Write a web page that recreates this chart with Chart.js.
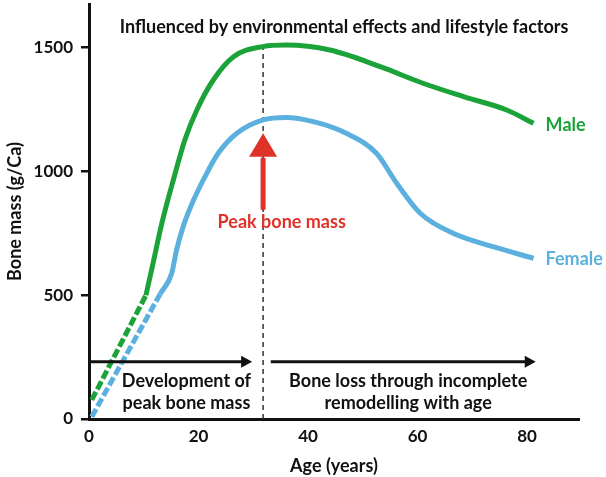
<!DOCTYPE html>
<html>
<head>
<meta charset="utf-8">
<script src="https://cdn.jsdelivr.net/npm/chart.js@4/dist/chart.umd.min.js"></script>
<style>
  html, body { margin: 0; padding: 0; background: #fff; }
</style>
</head>
<body>
<canvas id="bone" width="606" height="477"></canvas>
<script>
// values: age in years, bone mass in g/Ca
var maleEarlyAge = [0.5, 10.4];
var maleEarlyMass = [77, 500];
var maleAge = [10.4, 11.7, 13.3, 15.4, 17.5, 19.7, 22.7, 26.4, 31.8, 36, 44, 53.2, 61, 68.4, 76.3, 81.2];
var maleMass = [500, 629, 790, 965, 1127, 1248, 1369, 1463, 1504, 1510, 1490, 1423, 1356, 1302, 1248, 1194];

var femaleEarlyAge = [0.5, 13];
var femaleEarlyMass = [9, 505];
var femaleAge = [13, 15.1, 16, 17.2, 19.1, 21.5, 23.6, 27, 31.8, 36, 41, 47, 52.5, 56.2, 60.5, 66.5, 73.8, 81.2];
var femaleMass = [505, 588, 683, 777, 884, 992, 1073, 1154, 1208, 1218, 1201, 1154, 1073, 952, 831, 750, 696, 649];

var xTicks = [0, 20, 40, 60, 80];
var yTicks = [0, 500, 1000, 1500];

// annotations
var peakAge = 31.8;
var peakTop = 1505;
var peakArrow = [845, 1059, 1154];   // shaft start, head base, tip
var phaseMass = 231;
var growthSpan = [0, 29.8];
var lossSpan = [33.2, 81.6];

var GREEN = '#1ba33a';
var BLUE = '#5cb0de';
var RED = '#df3229';
var FONT = 'Lato';

function pts(xs, ys) {
  return xs.map(function (x, i) { return { x: x, y: ys[i] }; });
}

var annotate = {
  id: 'annotate',
  afterDatasetsDraw: function (chart) {
    var ctx = chart.ctx;
    var xs = chart.scales.x, ys = chart.scales.y;
    var px = function (v) { return xs.getPixelForValue(v); };
    var py = function (v) { return ys.getPixelForValue(v); };
    ctx.save();

    // red peak arrow
    var ax = px(peakAge);
    ctx.strokeStyle = RED;
    ctx.fillStyle = RED;
    ctx.lineWidth = 5;
    ctx.beginPath();
    ctx.moveTo(ax, py(peakArrow[0]));
    ctx.lineTo(ax, py(peakArrow[1]) + 1);
    ctx.stroke();
    ctx.beginPath();
    ctx.moveTo(ax - 14, py(peakArrow[1]));
    ctx.lineTo(ax + 14, py(peakArrow[1]));
    ctx.lineTo(ax, py(peakArrow[2]));
    ctx.closePath();
    ctx.fill();

    // phase arrows
    ctx.strokeStyle = '#111';
    ctx.fillStyle = '#111';
    ctx.lineWidth = 3;
    [growthSpan, lossSpan].forEach(function (s) {
      var y = py(phaseMass), x0 = px(s[0]), x1 = px(s[1]);
      ctx.beginPath();
      ctx.moveTo(x0, y);
      ctx.lineTo(x1 - 8, y);
      ctx.stroke();
      ctx.beginPath();
      ctx.moveTo(x1 - 11, y - 6);
      ctx.lineTo(x1, y);
      ctx.lineTo(x1 - 11, y + 6);
      ctx.closePath();
      ctx.fill();
    });

    // texts
    ctx.textBaseline = 'middle';
    ctx.textAlign = 'center';
    ctx.font = 'bold 18px ' + FONT;
    ctx.fillStyle = '#111';
    ctx.fillText('Influenced by environmental effects and lifestyle factors', px(46.6), py(1583));
    ctx.fillText('Development of', px(17.8), py(153));
    ctx.fillText('peak bone mass', px(17.8), py(62));
    ctx.fillText('Bone loss through incomplete', px(58.3), py(153));
    ctx.fillText('remodelling with age', px(58.3), py(62));

    ctx.fillStyle = RED;
    ctx.fillText('Peak bone mass', px(35.2), py(793));

    ctx.textAlign = 'left';
    ctx.fillStyle = GREEN;
    ctx.fillText('Male', px(83.4), py(1187));
    ctx.fillStyle = BLUE;
    ctx.fillText('Female', px(83.4), py(647));
    ctx.restore();
  }
};

new Chart(document.getElementById('bone'), {
  type: 'line',
  data: {
    datasets: [
      { data: pts(maleAge, maleMass), borderColor: GREEN, borderWidth: 5, cubicInterpolationMode: 'monotone' },
      { data: pts(maleEarlyAge, maleEarlyMass), borderColor: GREEN, borderWidth: 5, borderDash: [9, 3] },
      { data: pts(femaleAge, femaleMass), borderColor: BLUE, borderWidth: 5, cubicInterpolationMode: 'monotone' },
      { data: pts(femaleEarlyAge, femaleEarlyMass), borderColor: BLUE, borderWidth: 5, borderDash: [9, 3] },
      { data: pts([peakAge, peakAge], [0, peakTop]), borderColor: '#333', borderWidth: 1.5, borderDash: [5, 4], order: 10 }
    ]
  },
  options: {
    responsive: false,
    animation: false,
    layout: { padding: { top: 4, right: 27, left: 0, bottom: 0 } },
    elements: { point: { radius: 0 }, line: { fill: false, borderCapStyle: 'butt' } },
    plugins: { legend: { display: false }, tooltip: { enabled: false } },
    scales: {
      x: {
        type: 'linear',
        min: 0,
        max: 89.5,
        afterFit: function (s) { s.height = 58; s.paddingLeft = 0; s.paddingRight = 0; },
        afterBuildTicks: function (s) { s.ticks = xTicks.map(function (v) { return { value: v }; }); },
        ticks: { color: '#111', padding: 7, font: { family: FONT, size: 17, weight: 'bold' },
                 callback: function (v) { return String(v); } },
        grid: { display: true, drawOnChartArea: false, drawTicks: false },
        border: { display: true, color: '#111', width: 3 },
        title: { display: true, text: 'Age (years)', color: '#111', padding: { top: 4, bottom: 0 }, font: { family: FONT, size: 18, weight: 'bold' } }
      },
      y: {
        min: 0,
        max: 1676,
        afterFit: function (s) { s.width = 89; s.paddingTop = 0; s.paddingBottom = 0; },
        afterBuildTicks: function (s) { s.ticks = yTicks.map(function (v) { return { value: v }; }); },
        ticks: { color: '#111', padding: 8, font: { family: FONT, size: 17, weight: 'bold' },
                 callback: function (v) { return String(v); } },
        grid: { display: true, drawOnChartArea: false, drawTicks: true, tickLength: 8, color: '#111', lineWidth: 2.5 },
        border: { display: true, color: '#111', width: 3 },
        title: { display: true, text: 'Bone mass (g/Ca)', color: '#111', padding: { top: 4, bottom: 0 }, font: { family: FONT, size: 18, weight: 'bold' } }
      }
    }
  },
  plugins: [annotate]
});
</script>
</body>
</html>
